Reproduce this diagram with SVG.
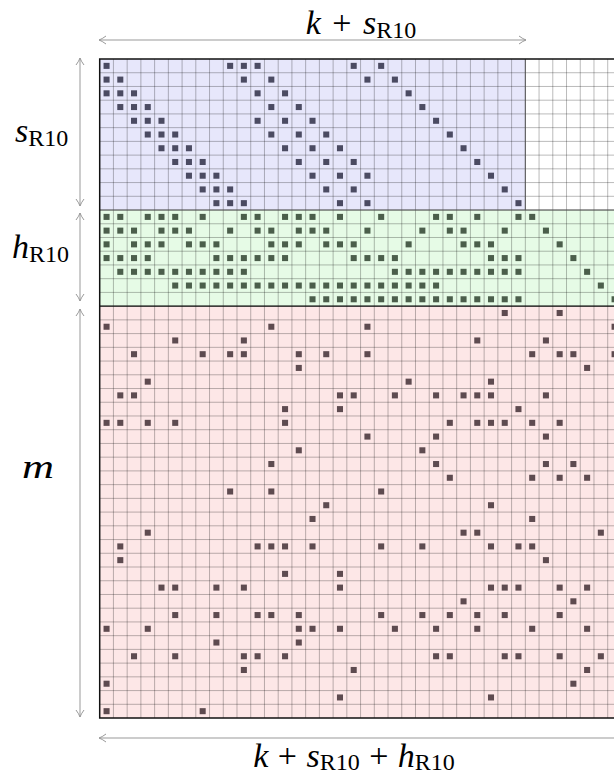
<svg xmlns="http://www.w3.org/2000/svg" width="614" height="775" viewBox="0 0 614 775">
<style>
.grid{fill:none;stroke:#000;stroke-opacity:0.3;stroke-width:0.9}
.b{fill:#4b4b62}
.g{fill:#4b5e4b}
.r{fill:#5e4b50}
.arr{fill:none;stroke:#999;stroke-width:1}
.lbl{font-family:"Liberation Serif","Times New Roman",serif;font-size:34px;fill:#000}
.it{font-style:italic}
.sub{font-size:24px}
</style>
<defs>
<rect id="d" x="0.28" y="0.28" width="0.44" height="0.44"/>
<marker id="ah" viewBox="-9 -5 10 10" refX="0" refY="0" markerWidth="10" markerHeight="10" markerUnits="userSpaceOnUse" orient="auto-start-reverse">
<path d="M-7,-4 Q-3,-1 0,0 Q-3,1 -7,4" fill="none" stroke="#999" stroke-width="1"/>
</marker>
</defs>
<g id="matrix" transform="translate(99.7,59) scale(13.73)">
<g id="backgrounds">
<rect x="0" y="0" width="31" height="11" fill="#e7e7fb"/>
<rect x="31" y="0" width="7" height="11" fill="#ffffff"/>
<rect x="0" y="11" width="38" height="7" fill="#e6fbe6"/>
<rect x="0" y="18" width="38" height="30" fill="#fde7e7"/>
</g>
<path class="grid" vector-effect="non-scaling-stroke" d="M1 0V48M2 0V48M3 0V48M4 0V48M5 0V48M6 0V48M7 0V48M8 0V48M9 0V48M10 0V48M11 0V48M12 0V48M13 0V48M14 0V48M15 0V48M16 0V48M17 0V48M18 0V48M19 0V48M20 0V48M21 0V48M22 0V48M23 0V48M24 0V48M25 0V48M26 0V48M27 0V48M28 0V48M29 0V48M30 0V48M31 0V48M32 0V48M33 0V48M34 0V48M35 0V48M36 0V48M37 0V48M0 1H38M0 2H38M0 3H38M0 4H38M0 5H38M0 6H38M0 7H38M0 8H38M0 9H38M0 10H38M0 11H38M0 12H38M0 13H38M0 14H38M0 15H38M0 16H38M0 17H38M0 18H38M0 19H38M0 20H38M0 21H38M0 22H38M0 23H38M0 24H38M0 25H38M0 26H38M0 27H38M0 28H38M0 29H38M0 30H38M0 31H38M0 32H38M0 33H38M0 34H38M0 35H38M0 36H38M0 37H38M0 38H38M0 39H38M0 40H38M0 41H38M0 42H38M0 43H38M0 44H38M0 45H38M0 46H38M0 47H38"/>
<path vector-effect="non-scaling-stroke" d="M0 11H38M31 0V11" fill="none" stroke="#555" stroke-width="1"/>
<path vector-effect="non-scaling-stroke" d="M0 18H38" fill="none" stroke="#111" stroke-width="1.3"/>
<rect vector-effect="non-scaling-stroke" x="0" y="0" width="38" height="48" fill="none" stroke="#111" stroke-width="1.5"/>
<g id="dots-s" class="b">
<use href="#d" x="0" y="0"/><use href="#d" x="9" y="0"/><use href="#d" x="10" y="0"/><use href="#d" x="11" y="0"/><use href="#d" x="18" y="0"/><use href="#d" x="20" y="0"/>
<use href="#d" x="0" y="1"/><use href="#d" x="1" y="1"/><use href="#d" x="10" y="1"/><use href="#d" x="12" y="1"/><use href="#d" x="19" y="1"/><use href="#d" x="21" y="1"/>
<use href="#d" x="0" y="2"/><use href="#d" x="1" y="2"/><use href="#d" x="2" y="2"/><use href="#d" x="11" y="2"/><use href="#d" x="13" y="2"/><use href="#d" x="22" y="2"/>
<use href="#d" x="1" y="3"/><use href="#d" x="2" y="3"/><use href="#d" x="3" y="3"/><use href="#d" x="12" y="3"/><use href="#d" x="14" y="3"/><use href="#d" x="23" y="3"/>
<use href="#d" x="2" y="4"/><use href="#d" x="3" y="4"/><use href="#d" x="4" y="4"/><use href="#d" x="11" y="4"/><use href="#d" x="13" y="4"/><use href="#d" x="15" y="4"/><use href="#d" x="24" y="4"/>
<use href="#d" x="3" y="5"/><use href="#d" x="4" y="5"/><use href="#d" x="5" y="5"/><use href="#d" x="12" y="5"/><use href="#d" x="14" y="5"/><use href="#d" x="16" y="5"/><use href="#d" x="25" y="5"/>
<use href="#d" x="4" y="6"/><use href="#d" x="5" y="6"/><use href="#d" x="6" y="6"/><use href="#d" x="13" y="6"/><use href="#d" x="15" y="6"/><use href="#d" x="17" y="6"/><use href="#d" x="26" y="6"/>
<use href="#d" x="5" y="7"/><use href="#d" x="6" y="7"/><use href="#d" x="7" y="7"/><use href="#d" x="14" y="7"/><use href="#d" x="16" y="7"/><use href="#d" x="18" y="7"/><use href="#d" x="27" y="7"/>
<use href="#d" x="6" y="8"/><use href="#d" x="7" y="8"/><use href="#d" x="8" y="8"/><use href="#d" x="15" y="8"/><use href="#d" x="17" y="8"/><use href="#d" x="19" y="8"/><use href="#d" x="28" y="8"/>
<use href="#d" x="7" y="9"/><use href="#d" x="8" y="9"/><use href="#d" x="9" y="9"/><use href="#d" x="16" y="9"/><use href="#d" x="18" y="9"/><use href="#d" x="29" y="9"/>
<use href="#d" x="8" y="10"/><use href="#d" x="9" y="10"/><use href="#d" x="10" y="10"/><use href="#d" x="17" y="10"/><use href="#d" x="19" y="10"/><use href="#d" x="30" y="10"/>
</g>
<g id="dots-h" class="g">
<use href="#d" x="0" y="11"/><use href="#d" x="1" y="11"/><use href="#d" x="3" y="11"/><use href="#d" x="4" y="11"/><use href="#d" x="5" y="11"/><use href="#d" x="7" y="11"/><use href="#d" x="10" y="11"/><use href="#d" x="11" y="11"/><use href="#d" x="13" y="11"/><use href="#d" x="14" y="11"/><use href="#d" x="15" y="11"/><use href="#d" x="17" y="11"/><use href="#d" x="20" y="11"/><use href="#d" x="24" y="11"/><use href="#d" x="25" y="11"/><use href="#d" x="27" y="11"/><use href="#d" x="30" y="11"/><use href="#d" x="31" y="11"/>
<use href="#d" x="0" y="12"/><use href="#d" x="1" y="12"/><use href="#d" x="2" y="12"/><use href="#d" x="4" y="12"/><use href="#d" x="5" y="12"/><use href="#d" x="6" y="12"/><use href="#d" x="9" y="12"/><use href="#d" x="11" y="12"/><use href="#d" x="12" y="12"/><use href="#d" x="14" y="12"/><use href="#d" x="15" y="12"/><use href="#d" x="16" y="12"/><use href="#d" x="19" y="12"/><use href="#d" x="23" y="12"/><use href="#d" x="25" y="12"/><use href="#d" x="26" y="12"/><use href="#d" x="29" y="12"/><use href="#d" x="32" y="12"/>
<use href="#d" x="0" y="13"/><use href="#d" x="2" y="13"/><use href="#d" x="3" y="13"/><use href="#d" x="4" y="13"/><use href="#d" x="6" y="13"/><use href="#d" x="7" y="13"/><use href="#d" x="8" y="13"/><use href="#d" x="12" y="13"/><use href="#d" x="13" y="13"/><use href="#d" x="14" y="13"/><use href="#d" x="16" y="13"/><use href="#d" x="17" y="13"/><use href="#d" x="18" y="13"/><use href="#d" x="22" y="13"/><use href="#d" x="26" y="13"/><use href="#d" x="27" y="13"/><use href="#d" x="28" y="13"/><use href="#d" x="33" y="13"/>
<use href="#d" x="0" y="14"/><use href="#d" x="1" y="14"/><use href="#d" x="2" y="14"/><use href="#d" x="3" y="14"/><use href="#d" x="8" y="14"/><use href="#d" x="9" y="14"/><use href="#d" x="10" y="14"/><use href="#d" x="11" y="14"/><use href="#d" x="12" y="14"/><use href="#d" x="13" y="14"/><use href="#d" x="18" y="14"/><use href="#d" x="19" y="14"/><use href="#d" x="20" y="14"/><use href="#d" x="21" y="14"/><use href="#d" x="28" y="14"/><use href="#d" x="29" y="14"/><use href="#d" x="30" y="14"/><use href="#d" x="34" y="14"/>
<use href="#d" x="1" y="15"/><use href="#d" x="2" y="15"/><use href="#d" x="3" y="15"/><use href="#d" x="4" y="15"/><use href="#d" x="5" y="15"/><use href="#d" x="6" y="15"/><use href="#d" x="7" y="15"/><use href="#d" x="8" y="15"/><use href="#d" x="9" y="15"/><use href="#d" x="10" y="15"/><use href="#d" x="21" y="15"/><use href="#d" x="22" y="15"/><use href="#d" x="23" y="15"/><use href="#d" x="24" y="15"/><use href="#d" x="25" y="15"/><use href="#d" x="26" y="15"/><use href="#d" x="27" y="15"/><use href="#d" x="28" y="15"/><use href="#d" x="29" y="15"/><use href="#d" x="30" y="15"/><use href="#d" x="35" y="15"/>
<use href="#d" x="5" y="16"/><use href="#d" x="6" y="16"/><use href="#d" x="7" y="16"/><use href="#d" x="8" y="16"/><use href="#d" x="9" y="16"/><use href="#d" x="10" y="16"/><use href="#d" x="11" y="16"/><use href="#d" x="12" y="16"/><use href="#d" x="13" y="16"/><use href="#d" x="14" y="16"/><use href="#d" x="15" y="16"/><use href="#d" x="16" y="16"/><use href="#d" x="17" y="16"/><use href="#d" x="18" y="16"/><use href="#d" x="19" y="16"/><use href="#d" x="20" y="16"/><use href="#d" x="21" y="16"/><use href="#d" x="22" y="16"/><use href="#d" x="23" y="16"/><use href="#d" x="24" y="16"/><use href="#d" x="36" y="16"/>
<use href="#d" x="15" y="17"/><use href="#d" x="16" y="17"/><use href="#d" x="17" y="17"/><use href="#d" x="18" y="17"/><use href="#d" x="19" y="17"/><use href="#d" x="20" y="17"/><use href="#d" x="21" y="17"/><use href="#d" x="22" y="17"/><use href="#d" x="23" y="17"/><use href="#d" x="24" y="17"/><use href="#d" x="25" y="17"/><use href="#d" x="26" y="17"/><use href="#d" x="27" y="17"/><use href="#d" x="28" y="17"/><use href="#d" x="29" y="17"/><use href="#d" x="30" y="17"/><use href="#d" x="37" y="17"/>
</g>
<g id="dots-m" class="r">
<use href="#d" x="29" y="18"/><use href="#d" x="33" y="18"/>
<use href="#d" x="0" y="19"/><use href="#d" x="12" y="19"/><use href="#d" x="19" y="19"/><use href="#d" x="37" y="19"/>
<use href="#d" x="5" y="20"/><use href="#d" x="10" y="20"/><use href="#d" x="27" y="20"/><use href="#d" x="32" y="20"/>
<use href="#d" x="2" y="21"/><use href="#d" x="7" y="21"/><use href="#d" x="9" y="21"/><use href="#d" x="10" y="21"/><use href="#d" x="14" y="21"/><use href="#d" x="16" y="21"/><use href="#d" x="19" y="21"/><use href="#d" x="31" y="21"/><use href="#d" x="33" y="21"/><use href="#d" x="34" y="21"/><use href="#d" x="37" y="21"/>
<use href="#d" x="14" y="22"/><use href="#d" x="35" y="22"/>
<use href="#d" x="3" y="23"/><use href="#d" x="22" y="23"/><use href="#d" x="28" y="23"/>
<use href="#d" x="1" y="24"/><use href="#d" x="2" y="24"/><use href="#d" x="17" y="24"/><use href="#d" x="18" y="24"/><use href="#d" x="21" y="24"/><use href="#d" x="24" y="24"/><use href="#d" x="26" y="24"/><use href="#d" x="27" y="24"/><use href="#d" x="28" y="24"/><use href="#d" x="32" y="24"/>
<use href="#d" x="13" y="25"/><use href="#d" x="17" y="25"/><use href="#d" x="30" y="25"/>
<use href="#d" x="0" y="26"/><use href="#d" x="1" y="26"/><use href="#d" x="3" y="26"/><use href="#d" x="5" y="26"/><use href="#d" x="13" y="26"/><use href="#d" x="25" y="26"/><use href="#d" x="27" y="26"/><use href="#d" x="28" y="26"/><use href="#d" x="29" y="26"/><use href="#d" x="31" y="26"/><use href="#d" x="33" y="26"/>
<use href="#d" x="19" y="27"/><use href="#d" x="24" y="27"/><use href="#d" x="32" y="27"/>
<use href="#d" x="14" y="28"/><use href="#d" x="23" y="28"/>
<use href="#d" x="12" y="29"/><use href="#d" x="24" y="29"/><use href="#d" x="32" y="29"/><use href="#d" x="34" y="29"/>
<use href="#d" x="25" y="30"/><use href="#d" x="31" y="30"/><use href="#d" x="33" y="30"/><use href="#d" x="35" y="30"/>
<use href="#d" x="9" y="31"/><use href="#d" x="12" y="31"/><use href="#d" x="20" y="31"/>
<use href="#d" x="16" y="32"/><use href="#d" x="28" y="32"/>
<use href="#d" x="15" y="33"/><use href="#d" x="31" y="33"/>
<use href="#d" x="3" y="34"/><use href="#d" x="26" y="34"/><use href="#d" x="27" y="34"/><use href="#d" x="36" y="34"/>
<use href="#d" x="1" y="35"/><use href="#d" x="11" y="35"/><use href="#d" x="12" y="35"/><use href="#d" x="13" y="35"/><use href="#d" x="15" y="35"/><use href="#d" x="20" y="35"/><use href="#d" x="23" y="35"/><use href="#d" x="28" y="35"/><use href="#d" x="30" y="35"/><use href="#d" x="31" y="35"/>
<use href="#d" x="1" y="36"/><use href="#d" x="32" y="36"/>
<use href="#d" x="13" y="37"/><use href="#d" x="17" y="37"/>
<use href="#d" x="4" y="38"/><use href="#d" x="5" y="38"/><use href="#d" x="8" y="38"/><use href="#d" x="10" y="38"/><use href="#d" x="17" y="38"/><use href="#d" x="28" y="38"/><use href="#d" x="29" y="38"/><use href="#d" x="30" y="38"/><use href="#d" x="33" y="38"/><use href="#d" x="35" y="38"/>
<use href="#d" x="26" y="39"/><use href="#d" x="34" y="39"/>
<use href="#d" x="5" y="40"/><use href="#d" x="8" y="40"/><use href="#d" x="11" y="40"/><use href="#d" x="12" y="40"/><use href="#d" x="14" y="40"/><use href="#d" x="20" y="40"/><use href="#d" x="23" y="40"/><use href="#d" x="25" y="40"/><use href="#d" x="27" y="40"/><use href="#d" x="29" y="40"/><use href="#d" x="33" y="40"/>
<use href="#d" x="0" y="41"/><use href="#d" x="3" y="41"/><use href="#d" x="14" y="41"/><use href="#d" x="15" y="41"/><use href="#d" x="17" y="41"/><use href="#d" x="21" y="41"/><use href="#d" x="24" y="41"/><use href="#d" x="27" y="41"/><use href="#d" x="31" y="41"/><use href="#d" x="35" y="41"/>
<use href="#d" x="8" y="42"/><use href="#d" x="14" y="42"/>
<use href="#d" x="2" y="43"/><use href="#d" x="5" y="43"/><use href="#d" x="10" y="43"/><use href="#d" x="11" y="43"/><use href="#d" x="13" y="43"/><use href="#d" x="24" y="43"/><use href="#d" x="25" y="43"/><use href="#d" x="29" y="43"/><use href="#d" x="30" y="43"/><use href="#d" x="33" y="43"/><use href="#d" x="36" y="43"/>
<use href="#d" x="10" y="44"/><use href="#d" x="18" y="44"/><use href="#d" x="35" y="44"/>
<use href="#d" x="0" y="45"/><use href="#d" x="34" y="45"/>
<use href="#d" x="17" y="46"/><use href="#d" x="28" y="46"/>
<use href="#d" x="0" y="47"/><use href="#d" x="7" y="47"/>
</g>
</g>
<g id="connectors">
<line class="arr" x1="99" y1="40" x2="526" y2="40" marker-start="url(#ah)" marker-end="url(#ah)"/>
<line class="arr" x1="80" y1="58" x2="80" y2="206" marker-start="url(#ah)" marker-end="url(#ah)"/>
<line class="arr" x1="80" y1="213" x2="80" y2="301" marker-start="url(#ah)" marker-end="url(#ah)"/>
<line class="arr" x1="80" y1="309" x2="80" y2="717" marker-start="url(#ah)" marker-end="url(#ah)"/>
<line class="arr" x1="99" y1="738" x2="622" y2="738" marker-start="url(#ah)" marker-end="url(#ah)"/>
</g>
<g id="labels" class="lbl">
<text id="lbl-top" x="361" y="34" text-anchor="middle"><tspan class="it">k</tspan><tspan dx="3"> + </tspan><tspan class="it" dx="3">s</tspan><tspan class="sub" dy="4">R10</tspan></text>
<text id="lbl-s" x="15" y="142"><tspan class="it">s</tspan><tspan class="sub" dy="4">R10</tspan></text>
<text id="lbl-h" x="12" y="258"><tspan class="it">h</tspan><tspan class="sub" dy="4">R10</tspan></text>
<text id="lbl-m" x="22" y="478" class="it" textLength="32" lengthAdjust="spacingAndGlyphs">m</text>
<text id="lbl-bottom" x="354" y="767" text-anchor="middle"><tspan class="it">k</tspan><tspan dx="1"> + </tspan><tspan class="it" dx="1">s</tspan><tspan class="sub" dy="3">R10</tspan><tspan dy="-3" dx="1"> + </tspan><tspan class="it" dx="1">h</tspan><tspan class="sub" dy="3">R10</tspan></text>
</g>
</svg>
